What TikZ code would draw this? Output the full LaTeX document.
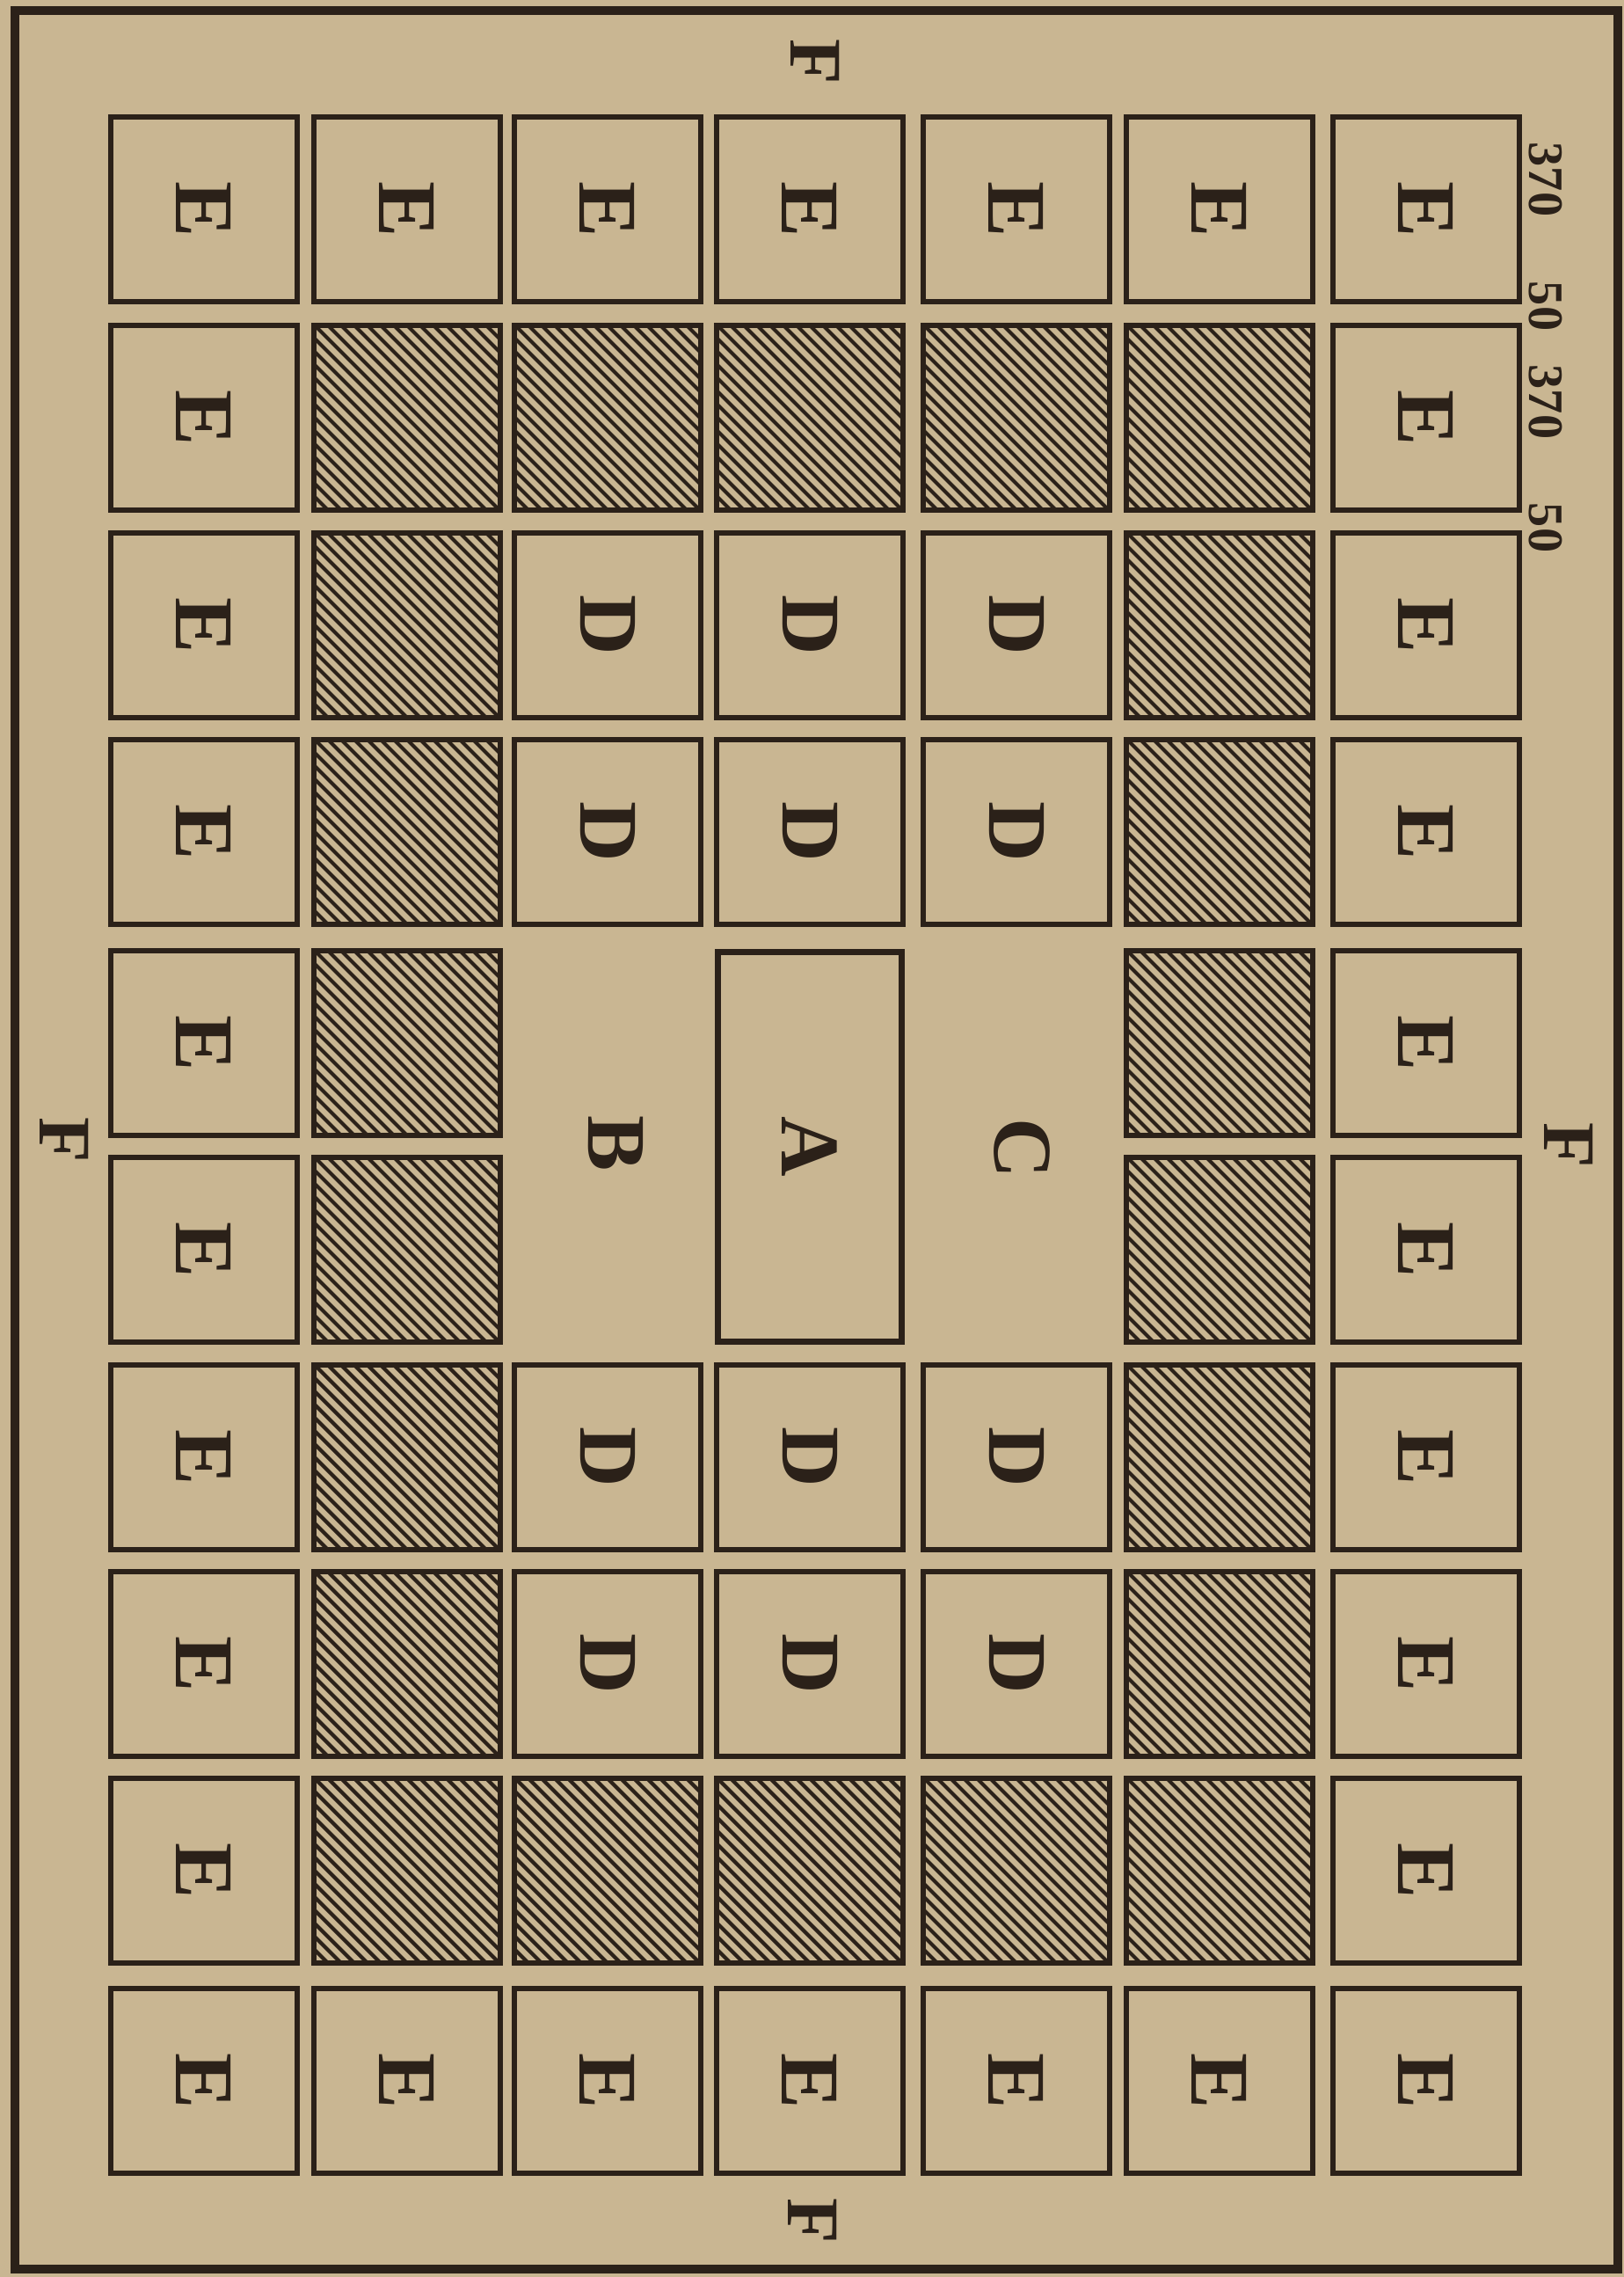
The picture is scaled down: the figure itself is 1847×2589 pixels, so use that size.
\documentclass[tikz,border=0pt]{standalone}
\usepackage{fontspec}
\setmainfont{Liberation Serif}
\usepackage{xcolor}
\definecolor{paper}{HTML}{C9B692}
\definecolor{ink}{HTML}{2B2119}

\begin{document}
\begin{tikzpicture}[x=0.1mm, y=-0.1mm,
    lot/.style={draw=ink, line width=1.9pt, rotate=-90, minimum width=21mm, minimum height=21.2mm, inner sep=0pt, text=ink, font=\fontsize{27}{30}\selectfont\bfseries},
    letter/.style={rotate=-90, inner sep=0pt, text=ink, font=\fontsize{27}{30}\selectfont\bfseries},
    side/.style={rotate=-90, inner sep=0pt, text=ink, font=\fontsize{24}{26}\selectfont\bfseries},
    measure/.style={rotate=-90, inner sep=0pt, text=ink, font=\fontsize{16}{18}\selectfont\bfseries},
    hatched/.style={draw=ink, line width=1.9pt, minimum width=21.2mm, minimum height=21mm, inner sep=0pt,
      path picture={\foreach \k in {-15,...,15}
        \draw[ink, line width=1.2pt, shift={(path picture bounding box.center)}] (\k*1.5mm-16mm,16mm) -- ++(32mm,-32mm);}}]
  \useasboundingbox[fill=paper] (0,0) rectangle (1847,2589);
  \draw[ink, line width=2.6pt] (17,12) rectangle (1840,2580);
  % outer ring of E lots
  \foreach \x [count=\c] in {232,463,691,921,1156,1387,1622} {
    \node[lot] (e\c-1) at (\x,238) {E};
    \node[lot] (e\c-10) at (\x,2366) {E};
  }
  \foreach \y [count=\r from 2] in {475,711,946,1186,1421,1657,1892,2127} {
    \node[lot] (e1-\r) at (232,\y) {E};
    \node[lot] (e7-\r) at (1622,\y) {E};
    \node[hatched] (h2-\r) at (463,\y) {};
    \node[hatched] (h6-\r) at (1387,\y) {};
  }
  % inner hatched rows and D lots
  \foreach \x [count=\c from 3] in {691,921,1156} {
    \node[hatched] (h\c-2) at (\x,475) {};
    \node[hatched] (h\c-9) at (\x,2127) {};
    \foreach \y/\r in {711/3,946/4,1657/7,1892/8}
      \node[lot] (d\c-\r) at (\x,\y) {D};
  }
  % centre
  \node[lot, minimum width=44.3mm, minimum height=20.9mm] (a) at (921,1304) {A};
  \node[letter] (b) at (700,1300) {B};
  \node[letter] (c) at (1162,1306) {C};
  % sides
  \node[side] (fn) at (927,70) {F};
  \node[side] (fs) at (924,2525) {F};
  \node[side] (fw) at (73,1296) {F};
  \node[side] (fe) at (1784,1302) {F};
  % measures
  \node[measure] (m1) at (1758,204) {370};
  \node[measure] (m2) at (1758,348) {50};
  \node[measure] (m3) at (1758,457) {370};
  \node[measure] (m4) at (1758,600) {50};
\end{tikzpicture}
\end{document}
